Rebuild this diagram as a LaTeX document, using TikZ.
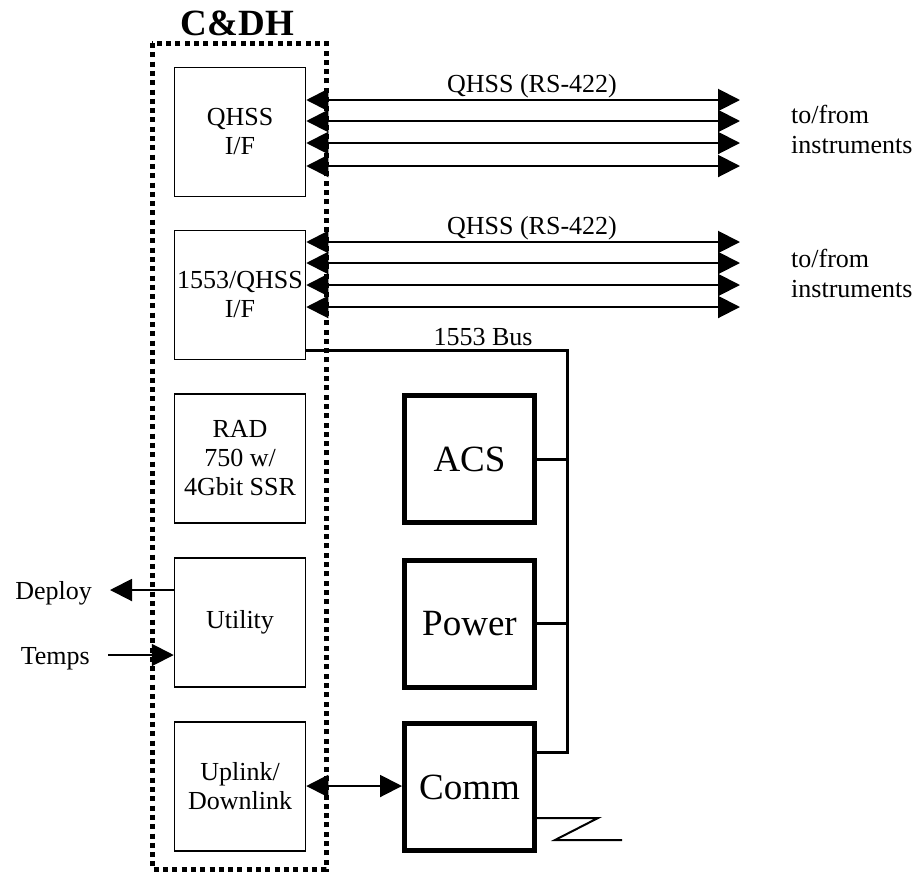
\documentclass[tikz,border=0pt]{standalone}
\usepackage{fontspec}
\setmainfont{Liberation Serif}
\usetikzlibrary{arrows.meta}
\begin{document}
\begin{tikzpicture}[x=1pt,y=-1pt,
  inbox/.style={draw, line width=1.5pt, minimum width=131pt, minimum height=129pt, inner sep=0pt, align=center, font=\fontsize{26}{29}\selectfont},
  bigbox/.style={draw, line width=5pt, minimum width=130pt, minimum height=127pt, inner sep=0pt, font=\fontsize{37}{40}\selectfont},
  lbl/.style={font=\fontsize{26}{30}\selectfont, inner sep=0pt},
  onetip/.style={line width=2pt, -{Triangle[length=22pt,width=22pt]}},
  twotip/.style={line width=2pt, {Triangle[length=22pt,width=22pt]}-{Triangle[length=22pt,width=22pt]}},
  bus/.style={line width=3pt, line join=miter},
  frame/.style={line width=5pt, dash pattern=on 5pt off 4.3pt}
]
\useasboundingbox (0,0) rectangle (920,873);

% C&DH internal boxes
\node[inbox] (qhss) at (240,132) {QHSS\\I/F};
\node[inbox] (mil) at (240,295) {1553/QHSS\\I/F};
\node[inbox] (rad) at (240,458.5) {RAD\\750 w/\\4Gbit SSR};
\node[inbox] (util) at (240,622.5) {Utility};
\node[inbox] (updn) at (240,786.5) {Uplink/\\Downlink};

% subsystem boxes
\node[bigbox] (acs) at (469.5,459) {ACS};
\node[bigbox] (pwr) at (469.5,623.5) {Power};
\node[bigbox] (comm) at (469.5,787) {Comm};

% title
\node[font=\bfseries\fontsize{37}{40}\selectfont, anchor=base, inner sep=0pt] (cdh) at (237.5,35) {C\&DH};

% QHSS lines, first group
\foreach \y [count=\i] in {100,121,143,166} {
  \coordinate (a\i) at (740,\y);
  \draw[twotip] (qhss.east |- a\i) -- (a\i);
}
\node[lbl, anchor=base] (q1) at (532,92) {QHSS (RS-422)};
\node[lbl, anchor=base west, align=left] (tf1) at (791,153) {to/from\\instruments};

% QHSS lines, second group
\foreach \y [count=\i] in {242,263,285,307} {
  \coordinate (b\i) at (740,\y);
  \draw[twotip] (mil.east |- b\i) -- (b\i);
}
\node[lbl, anchor=base] (q2) at (532,234) {QHSS (RS-422)};
\node[lbl, anchor=base west, align=left] (tf2) at (791,297) {to/from\\instruments};

% 1553 bus
\coordinate (busT) at (567,350);
\coordinate (busB) at (567,752);
\draw[bus] (mil.east |- busT) -- (busT) -- (busB) -- (comm.east |- busB);
\draw[bus] (acs.east) -- (acs.east -| busT);
\draw[bus] (pwr.east) -- (pwr.east -| busT);
\node[lbl, anchor=base] (buslbl) at (483,345) {1553 Bus};

% uplink/downlink to comm
\coordinate (ul) at (0,786);
\draw[twotip] (updn.east |- ul) -- (comm.west |- ul);

% antenna
\coordinate (an1) at (598,818);
\coordinate (an2) at (555,840);
\coordinate (an3) at (622,840);
\draw[line width=2pt, line join=miter] (comm.east |- an1) -- (an1) -- (an2) -- (an3);

% deploy / temps
\coordinate (dep) at (110,590);
\draw[onetip] (util.west |- dep) -- (dep);
\node[lbl, anchor=base east] (deplbl) at (92,599) {Deploy};
\coordinate (tmp) at (108,655);
\draw[onetip] (tmp) -- (util.west |- tmp);
\node[lbl, anchor=base east] (tmplbl) at (90,664) {Temps};

% C&DH dotted frame
\draw[frame] (152,43) rectangle (326,869);
\end{tikzpicture}
\end{document}
